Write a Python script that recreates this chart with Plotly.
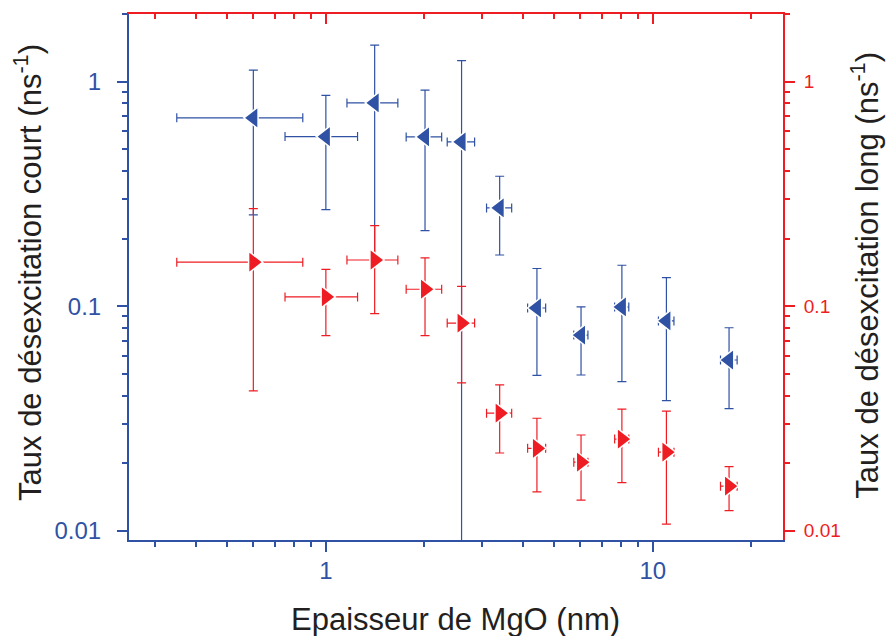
import math
import plotly.graph_objects as go

# ---- data ----
thickness = [0.6, 1.0, 1.41, 2.01, 2.6, 3.4, 4.42, 6.03, 8.04, 11.0, 17.1]
thickness_err = [0.25, 0.25, 0.25, 0.25, 0.25, 0.3, 0.28, 0.3, 0.4, 0.6, 1.0]

rate_short = [0.69, 0.569, 0.804, 0.567, 0.539, 0.274, 0.0982, 0.0744, 0.0992, 0.086, 0.0576]
rate_short_err = [0.435, 0.30, 0.65, 0.35, 0.70, 0.105, 0.049, 0.025, 0.053, 0.048, 0.0226]

rate_long = [0.157, 0.110, 0.1606, 0.119, 0.0841, 0.0334, 0.0233, 0.0202, 0.0256, 0.0224, 0.0158]
rate_long_err = [0.115, 0.036, 0.068, 0.045, 0.0385, 0.0112, 0.0084, 0.0065, 0.0092, 0.0117, 0.0035]

x_major = [1, 10]
x_major_text = ["1", "10"]
x_minor = [0.3, 0.4, 0.5, 0.6, 0.7, 0.8, 0.9, 2, 3, 4, 5, 6, 7, 8, 9, 20]
y_major = [0.01, 0.1, 1]
y_major_text = ["0.01", "0.1", "1"]
y_minor = [0.02, 0.03, 0.04, 0.05, 0.06, 0.07, 0.08, 0.09,
           0.2, 0.3, 0.4, 0.5, 0.6, 0.7, 0.8, 0.9, 2]

x_range = [0.25, 25]
y_range = [0.0091, 2.0]

# ---- style ----
BLUE = "#2F52A4"
RED = "#EE1D23"
TXT = "#231F20"
FONT = "Liberation Sans, Arial, Helvetica, sans-serif"

fig = go.Figure()

# invisible helper trace so the top (red) x axis is drawn
fig.add_trace(go.Scatter(
    x=thickness, y=rate_short, mode="markers", xaxis="x2", yaxis="y",
    marker=dict(opacity=0, size=1), hoverinfo="skip", showlegend=False,
))

fig.add_trace(go.Scatter(
    x=thickness, y=rate_short, mode="markers", xaxis="x", yaxis="y",
    marker=dict(symbol="triangle-left", size=19, color=BLUE,
                line=dict(color="white", width=1.5)),
    error_x=dict(type="data", array=thickness_err, color=BLUE, thickness=1.2, width=4.5),
    error_y=dict(type="data", array=rate_short_err, color=BLUE, thickness=1.2, width=4.5),
    showlegend=False, name="court",
))

fig.add_trace(go.Scatter(
    x=thickness, y=rate_long, mode="markers", xaxis="x", yaxis="y2",
    marker=dict(symbol="triangle-right", size=19, color=RED,
                line=dict(color="white", width=1.5)),
    error_x=dict(type="data", array=thickness_err, color=RED, thickness=1.2, width=4.5),
    error_y=dict(type="data", array=rate_long_err, color=RED, thickness=1.2, width=4.5),
    showlegend=False, name="long",
))

logr = lambda r: [math.log10(r[0]), math.log10(r[1])]

common_x = dict(type="log", range=logr(x_range), showgrid=False, zeroline=False,
                tickmode="array", tickvals=x_major, ticktext=x_major_text)
common_y = dict(type="log", range=logr(y_range), showgrid=False, zeroline=False,
                tickmode="array", tickvals=y_major, ticktext=y_major_text)

fig.update_layout(
    width=891, height=636,
    margin=dict(l=129, r=108, t=14, b=96),
    paper_bgcolor="white", plot_bgcolor="white",
    font=dict(family=FONT, color=TXT),
    xaxis=dict(**common_x, anchor="y", side="bottom",
               showline=True, linecolor=BLUE, linewidth=2,
               ticks="outside", ticklen=10, tickwidth=2, tickcolor=BLUE,
               tickfont=dict(size=24, color=BLUE, family=FONT),
               ticklabelstandoff=-2,
               minor=dict(tickmode="array", tickvals=x_minor, ticks="outside",
                          ticklen=5, tickwidth=2, tickcolor=BLUE, showgrid=False)),
    xaxis2=dict(**common_x, overlaying="x", anchor="y", side="top",
                showline=True, linecolor=RED, linewidth=2,
                ticks="inside", ticklen=10, tickwidth=2, tickcolor=RED,
                showticklabels=False,
                minor=dict(tickmode="array", tickvals=x_minor, ticks="inside",
                           ticklen=5, tickwidth=2, tickcolor=RED, showgrid=False)),
    yaxis=dict(**common_y, anchor="x", side="left",
               showline=True, linecolor=BLUE, linewidth=2,
               ticks="outside", ticklen=10, tickwidth=2, tickcolor=BLUE,
               tickfont=dict(size=24, color=BLUE, family=FONT),
               ticklabelstandoff=11,
               minor=dict(tickmode="array", tickvals=y_minor, ticks="outside",
                          ticklen=5, tickwidth=2, tickcolor=BLUE, showgrid=False)),
    yaxis2=dict(**common_y, overlaying="y", anchor="x", side="right",
                showline=True, linecolor=RED, linewidth=2,
                ticks="outside", ticklen=10, tickwidth=2, tickcolor=RED,
                tickfont=dict(size=19, color=RED, family=FONT),
                ticklabelstandoff=5,
                minor=dict(tickmode="array", tickvals=y_minor, ticks="outside",
                           ticklen=5, tickwidth=2, tickcolor=RED, showgrid=False)),
)

fig.add_annotation(text="Taux de désexcitation court (ns<sup>-1</sup>)",
                   xref="paper", yref="paper", x=-0.1545, y=0.5095,
                   textangle=-90, showarrow=False, xanchor="center", yanchor="middle",
                   font=dict(size=31, color=TXT, family=FONT))
fig.add_annotation(text="Taux de désexcitation long (ns<sup>-1</sup>)",
                   xref="paper", yref="paper", x=1.125, y=0.504,
                   textangle=-90, showarrow=False, xanchor="center", yanchor="middle",
                   font=dict(size=31, color=TXT, family=FONT))
fig.add_annotation(text="Epaisseur de MgO (nm)",
                   xref="paper", yref="paper", x=0.499, y=-0.152,
                   showarrow=False, xanchor="center", yanchor="middle",
                   font=dict(size=31, color=TXT, family=FONT))

fig.write_html("out.html",
               config={"displayModeBar": False},
               post_script="document.body.style.margin='0';"
                           "document.body.style.overflow='hidden';")
